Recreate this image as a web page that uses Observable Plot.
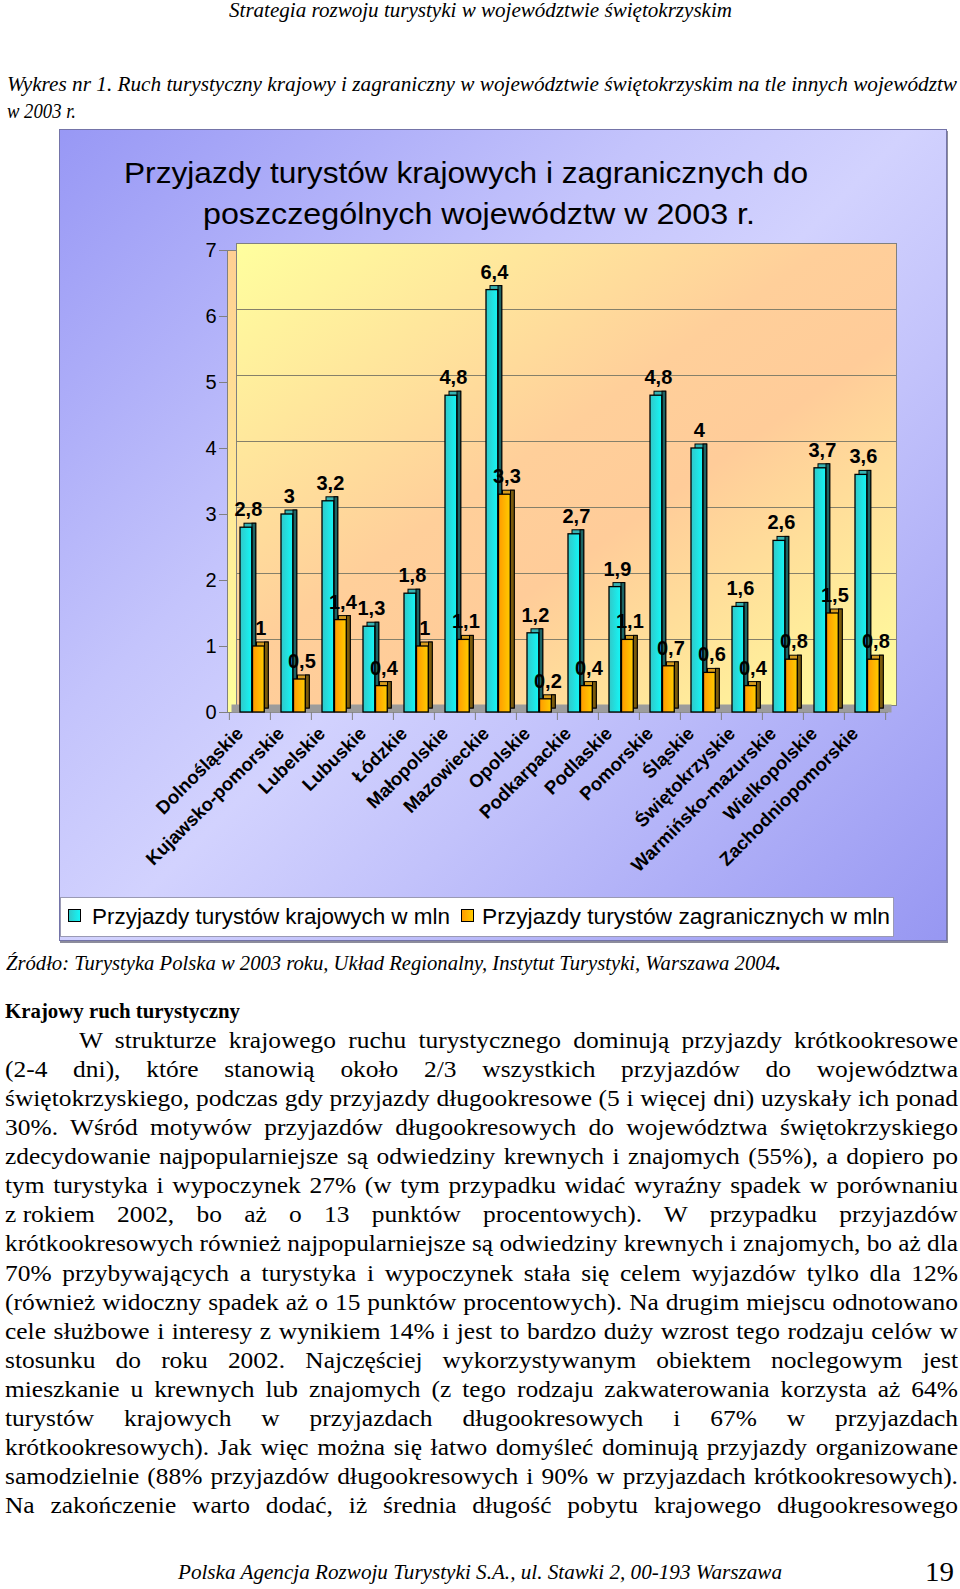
<!DOCTYPE html>
<html><head><meta charset="utf-8">
<script src="https://cdn.jsdelivr.net/npm/d3@7"></script>
<script src="https://cdn.jsdelivr.net/npm/@observablehq/plot@0.6"></script>
<style>
html,body{margin:0;padding:0;background:#fff;}
#page{position:relative;width:960px;height:1589px;overflow:hidden;background:#fff;}
.t{position:absolute;white-space:nowrap;transform-origin:0 0;color:#000;}
.nb{display:inline-block;white-space:nowrap;}
#panel{position:absolute;left:59px;top:129px;width:886px;height:810px;border:1px solid #7474a8;
  background:linear-gradient(135deg,#9898f5 0%,#c4c4fc 35%,#d2d2fe 50%,#c2c2fb 65%,#9797f2 100%);
  box-shadow:1px 2px 0 #8c8c9c;}
#chart{position:absolute;left:0;top:230px;}
#legend{position:absolute;left:60px;top:897px;width:832px;height:38px;background:#fff;border:1px solid #9a9ab4;}
.sq{position:absolute;width:11px;height:11px;border:1.5px solid #000;}
g[aria-label="x-axis tick label"] text{font-weight:bold;}
</style></head><body>
<svg width="0" height="0" style="position:absolute">
<defs>
<linearGradient id="wallG" x1="0" y1="0" x2="1" y2="1">
<stop offset="0" stop-color="#ffff9e"/><stop offset="0.45" stop-color="#ffcf9a"/><stop offset="0.6" stop-color="#ffcc99"/><stop offset="1" stop-color="#ffff9c"/>
</linearGradient>
<linearGradient id="leftG" x1="0" y1="0" x2="0" y2="1">
<stop offset="0" stop-color="#ffcf92"/><stop offset="1" stop-color="#ffff9c"/>
</linearGradient>
<linearGradient id="cyanF" x1="0" y1="0" x2="1" y2="0">
<stop offset="0" stop-color="#31c8c8"/><stop offset="1" stop-color="#14f6f6"/>
</linearGradient>
<linearGradient id="orangeF" x1="0" y1="0" x2="1" y2="0">
<stop offset="0" stop-color="#ff9a00"/><stop offset="1" stop-color="#ffcc00"/>
</linearGradient>
</defs>
</svg>
<div id="page">
  <div id="panel"></div>
  <div id="chart"></div>
  <div id="legend">
    <div class="sq" style="left:7px;top:11px;background:linear-gradient(90deg,#31c8c8,#14f6f6);"></div>
    <div class="sq" style="left:400px;top:11px;background:linear-gradient(90deg,#ff9a00,#ffcc00);"></div>
  </div>
</div>
<script>
// ---------- data ----------
const regions = ["Dolnośląskie","Kujawsko-pomorskie","Lubelskie","Lubuskie","Łódzkie","Małopolskie","Mazowieckie","Opolskie","Podkarpackie","Podlaskie","Pomorskie","Śląskie","Świętokrzyskie","Warmińsko-mazurskie","Wielkopolskie","Zachodniopomorskie"];
const domestic = [2.8,3,3.2,1.3,1.8,4.8,6.4,1.2,2.7,1.9,4.8,4,1.6,2.6,3.7,3.6];
const foreign  = [1,0.5,1.4,0.4,1,1.1,3.3,0.2,0.4,1.1,0.7,0.6,0.4,0.8,1.5,0.8];
const yTicks = [0,1,2,3,4,5,6,7];
const gridTicks = [1,2,3,4,5,6];
const seriesNames = ["Przyjazdy turystów krajowych w mln","Przyjazdy turystów zagranicznych w mln"];
const chartTitle = ["Przyjazdy turystów krajowych i zagranicznych do","poszczególnych województw w 2003 r."];
const headerText = "Strategia rozwoju turystyki w województwie świętokrzyskim";
const captionLines = ["Wykres nr 1. Ruch turystyczny krajowy i zagraniczny w województwie świętokrzyskim na tle innych województw","w 2003 r."];
const sourceText = "Źródło: Turystyka Polska w 2003 roku, Układ Regionalny, Instytut Turystyki, Warszawa 2004";
const sectionTitle = "Krajowy ruch turystyczny";
const bodyLines = [
"W strukturze krajowego ruchu turystycznego dominują przyjazdy krótkookresowe",
"(2-4 dni), które stanowią około 2/3 wszystkich przyjazdów do województwa",
"świętokrzyskiego, podczas gdy przyjazdy długookresowe (5 i więcej dni) uzyskały ich ponad",
"30%. Wśród motywów przyjazdów długookresowych do województwa świętokrzyskiego",
"zdecydowanie najpopularniejsze są odwiedziny krewnych i znajomych (55%), a dopiero po",
"tym turystyka i wypoczynek 27% (w tym przypadku widać wyraźny spadek w porównaniu",
"<span class=\"nb\">z rokiem</span> 2002, bo aż o 13 punktów procentowych). W przypadku przyjazdów",
"krótkookresowych również najpopularniejsze są odwiedziny krewnych i znajomych, bo aż dla",
"70% przybywających a turystyka i wypoczynek stała się celem wyjazdów tylko dla 12%",
"(również widoczny spadek aż o 15 punktów procentowych). Na drugim miejscu odnotowano",
"cele służbowe i interesy z wynikiem 14% i jest to bardzo duży wzrost tego rodzaju celów w",
"stosunku do roku 2002. Najczęściej wykorzystywanym obiektem noclegowym jest",
"mieszkanie u krewnych lub znajomych (z tego rodzaju zakwaterowania korzysta aż 64%",
"turystów krajowych w przyjazdach długookresowych i 67% w przyjazdach",
"krótkookresowych). Jak więc można się łatwo domyśleć dominują przyjazdy organizowane",
"samodzielnie (88% przyjazdów długookresowych i 90% w przyjazdach krótkookresowych).",
"Na zakończenie warto dodać, iż średnia długość pobytu krajowego długookresowego"
];
const footerText = "Polska Agencja Rozwoju Turystyki S.A., ul. Stawki 2, 00-193 Warszawa";
const pageNumber = "19";

// ---------- text helpers ----------
const page = document.getElementById("page");
const SERIF = '"Liberation Serif","Times New Roman",serif';
const SANS = '"Liberation Sans",Arial,sans-serif';
function addText(str, o, parent) {
  const el = document.createElement("div");
  el.className = "t";
  if (o.html) el.innerHTML = str; else el.textContent = str;
  const asc = o.family === SANS ? 0.8465 : 0.8375;
  Object.assign(el.style, {left: o.x + "px", top: (o.base - o.size * asc) + "px", fontSize: o.size + "px",
    lineHeight: o.size + "px", fontFamily: o.family, fontStyle: o.italic ? "italic" : "normal",
    fontWeight: o.bold ? "bold" : "normal"});
  (parent || page).appendChild(el);
  if (o.w) { const w = el.getBoundingClientRect().width; el.style.transform = `scaleX(${o.w / w})`; }
  return el;
}
function addJust(str, x, base, target, size, s) {
  const el = addText(str, {x, base, size, family: SERIF, html: true});
  const w = el.getBoundingClientRect().width;
  if (w * s <= target - 1) {
    Object.assign(el.style, {whiteSpace: "normal", width: (target / s) + "px", textAlign: "justify",
      textAlignLast: "justify", transform: `scaleX(${s})`});
  } else {
    el.style.transform = `scaleX(${target / w})`;
  }
}

addText(headerText, {x: 229, base: 17, size: 20, family: SERIF, italic: true, w: 503});
addText(captionLines[0], {x: 7, base: 92, size: 21, family: SERIF, italic: true, w: 950});
addText(captionLines[1], {x: 7, base: 119, size: 21, family: SERIF, italic: true, w: 69});
addText(chartTitle[0], {x: 124, base: 183, size: 30, family: SANS, w: 684});
addText(chartTitle[1], {x: 203, base: 224, size: 30, family: SANS, w: 552});
addText(sourceText + "<b>.</b>", {x: 6, base: 970, size: 20, family: SERIF, italic: true, w: 775, html: true});
addText(sectionTitle, {x: 5, base: 1018, size: 20, family: SERIF, bold: true, w: 235});
bodyLines.forEach((l, i) => {
  const base = 1048 + i * 29.08;
  if (i === 0) addJust(l, 79, base, 879, 24, 1.06);
  else addJust(l, 5, base, 953, 24, 1.06);
});
addText(footerText, {x: 178, base: 1579, size: 20, family: SERIF, italic: true, w: 604});
addText(pageNumber, {x: 925, base: 1582, size: 27, family: SERIF, w: 29});

const legend = document.getElementById("legend");
addText(seriesNames[0], {x: 31, base: 27, size: 22, family: SANS, w: 358}, legend);
addText(seriesNames[1], {x: 421, base: 27, size: 22, family: SANS, w: 408}, legend);

// ---------- chart ----------
const dom = regions.map((r, i) => ({region: r, value: domestic[i]}));
const frn = regions.map((r, i) => ({region: r, value: foreign[i]}));
const fmt = v => String(v).replace(".", ",");

const W = 960, H = 660, mL = 227, mR = 73, mT = 20, mB = 178;
const bw = (W - mL - mR) / regions.length;
const D = 4;
function bar3d(data, x0, x1, face, top, side) {
  return [
    Plot.rectY(data, {x: "region", y: "value", insetLeft: x0, insetRight: bw - x1, dx: D, dy: -D, fill: top, stroke: "#000", strokeWidth: 1}),
    Plot.rectY(data, {x: "region", y: "value", insetLeft: x1, insetRight: bw - x1 - D, dy: -D, fill: side, stroke: "#000", strokeWidth: 1}),
    Plot.rectY(data, {x: "region", y: "value", insetLeft: x0, insetRight: bw - x1, fill: face, stroke: "#000", strokeWidth: 1.3})
  ];
}

const chart = Plot.plot({
  width: W, height: H,
  marginLeft: mL, marginRight: mR, marginTop: mT, marginBottom: mB,
  style: {background: "transparent", fontFamily: SANS, overflow: "visible", color: "#000"},
  x: {type: "band", domain: regions, padding: 0, label: null},
  y: {domain: [0, 7], label: null},
  marks: [
    Plot.frame({fill: "url(#leftG)", stroke: "#808080"}),
    Plot.frame({fill: "url(#wallG)", stroke: "#808080", dx: 9, dy: -7}),
    Plot.ruleY(gridTicks, {stroke: "#85806a", strokeWidth: 1, dx: 9, dy: -7}),
    Plot.ruleY([0], {stroke: "#9c9c9c", strokeWidth: 8, dx: 4.5, dy: -4}),
    ...bar3d(dom, 11, 23, "url(#cyanF)", "#36b4b4", "#1d6464"),
    ...bar3d(frn, 23.5, 35.5, "url(#orangeF)", "#d89c1c", "#7a5a0c"),
    Plot.text(dom, {x: "region", y: "value", text: d => fmt(d.value), dx: -1.6, dy: -18, fontSize: 20, fontWeight: "bold", fill: "#000"}),
    Plot.text(frn, {x: "region", y: "value", text: d => fmt(d.value), dx: 10.9, dy: -18, fontSize: 20, fontWeight: "bold", fill: "#000"}),
    Plot.axisY({ticks: yTicks, tickSize: 8, tickPadding: 3, fontSize: 20, stroke: "#808080", fill: "#000", tickFormat: d => String(d), label: null}),
    Plot.axisX({tickSize: 8, tickFormat: () => "", dx: -bw / 2, stroke: "#808080", label: null}),
    Plot.axisX({ticks: [regions[regions.length - 1]], tickSize: 8, tickFormat: () => "", dx: bw / 2, stroke: "#808080", label: null}),
    Plot.axisX({tickSize: 0, tickRotate: -45, tickPadding: 8, fontSize: 18.5, fontWeight: "bold", fill: "#000", dx: -10, dy: 10, label: null})
  ]
});
document.getElementById("chart").appendChild(chart);
</script>
</body></html>
